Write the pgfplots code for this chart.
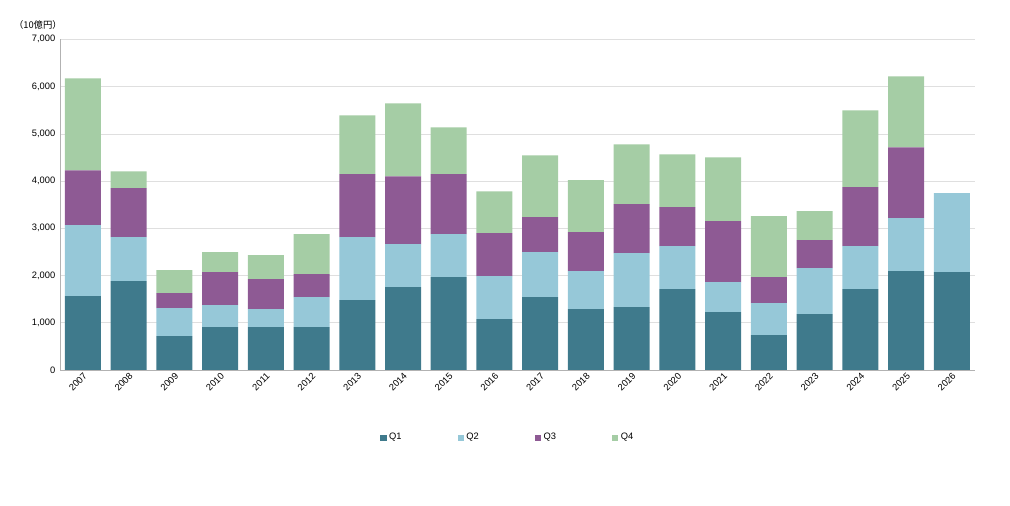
\documentclass[border=0pt]{standalone}
\usepackage{pgfplots}
\pgfplotsset{compat=1.18}
\usepackage{fontspec}
\setmainfont{Liberation Sans}
\newfontfamily\cjk{Noto Sans CJK JP}
\definecolor{qa}{HTML}{3F7A8C}
\definecolor{qb}{HTML}{96C8D8}
\definecolor{qc}{HTML}{8E5A94}
\definecolor{qd}{HTML}{A5CDA5}
\begin{document}
\begin{tikzpicture}
\path[use as bounding box] (-45pt,-102pt) rectangle (712.5pt,277.5pt);
\begin{axis}[at={(0,0)},anchor=south west,scale only axis,width=686pt,height=248pt,
ybar stacked,bar width=27pt,
xmin=-0.5,xmax=19.5,ymin=0,ymax=7000,
xtick={0,...,19},
xticklabels={2007,2008,2009,2010,2011,2012,2013,2014,2015,2016,2017,2018,2019,2020,2021,2022,2023,2024,2025,2026},
x tick label style={rotate=45,anchor=north east,font=\scriptsize,inner sep=1pt},
ytick={0,1000,...,7000},
y tick label style={font=\scriptsize},
/pgf/number format/assume math mode=true,
/pgf/number format/1000 sep={,},
scaled y ticks=false,
ymajorgrids,grid style={gray!25},
axis x line*=bottom,axis y line*=left,
axis line style={gray!60},
major tick length=0pt,
legend columns=4,legend style={draw=none,font=\scriptsize,at={(0.49,-0.175)},anchor=north,/tikz/every even column/.append style={column sep=40pt}},
legend image code/.code={\draw[#1,draw=none] (0cm,-0.08cm) rectangle (0.16cm,0.08cm);},
]
\addplot[fill=qa,draw=none] coordinates {(0,1565)(1,1882)(2,719)(3,909)(4,909)(5,909)(6,1480)(7,1755)(8,1966)(9,1078)(10,1543)(11,1290)(12,1332)(13,1712)(14,1226)(15,740)(16,1184)(17,1712)(18,2093)(19,2072)};
\addplot[fill=qb,draw=none] coordinates {(0,1501)(1,930)(2,592)(3,465)(4,381)(5,634)(6,1332)(7,909)(8,909)(9,909)(10,952)(11,803)(12,1142)(13,910)(14,634)(15,676)(16,972)(17,910)(18,1121)(19,1670)};
\addplot[fill=qc,draw=none] coordinates {(0,1162)(1,1036)(2,317)(3,698)(4,634)(5,487)(6,1332)(7,1437)(8,1269)(9,909)(10,740)(11,825)(12,1036)(13,824)(14,1290)(15,550)(16,592)(17,1247)(18,1501)(19,0)};
\addplot[fill=qd,draw=none] coordinates {(0,1945)(1,359)(2,486)(3,423)(4,507)(5,845)(6,1247)(7,1544)(8,993)(9,888)(10,1310)(11,1099)(12,1268)(13,1121)(14,1353)(15,1290)(16,614)(17,1628)(18,1501)(19,0)};
\legend{Q1,Q2,Q3,Q4}
\end{axis}
\node[font=\scriptsize\cjk,anchor=south west] at (-38pt,252pt) {（10億円）};
\end{tikzpicture}
\end{document}
